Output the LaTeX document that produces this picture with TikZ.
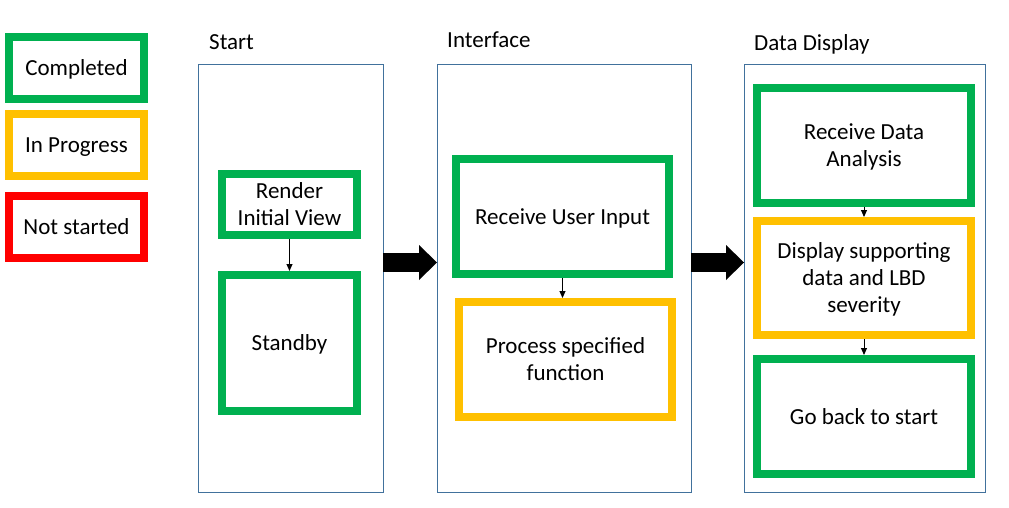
\documentclass[tikz,border=0pt]{standalone}
\usepackage{fontspec}
\setmainfont{Carlito}
\usepackage{tikz}
\usetikzlibrary{arrows.meta,positioning}
\definecolor{okgreen}{RGB}{0,176,80}
\definecolor{wipyellow}{RGB}{255,192,0}
\definecolor{nored}{RGB}{255,0,0}
\definecolor{laneblue}{RGB}{65,113,156}
% line struts so text sits as in the slide
\newcommand{\tstrut}{\rule{0pt}{0.95em}}
\newcommand{\bstrut}{\rule[-0.27em]{0pt}{0.27em}}
\tikzset{task/.style={draw, line width=8pt, outer sep=4pt, inner sep=0pt, align=center},
    done/.style={task, draw=okgreen},
    doing/.style={task, draw=wipyellow},
    todo/.style={task, draw=nored},
    lane/.style={draw=laneblue, line width=1pt, outer sep=0pt},
    title/.style={anchor=base west, inner sep=0pt},
    flow/.style={color=black, line width=1pt, -{Triangle[length=7pt,width=6pt]}},
    bigflow/.style={color=black, line width=19pt, -{Triangle[length=18pt,width=35pt,line width=0pt]}}}

\begin{document}
\begin{tikzpicture}[x=1pt, y=-1pt, every node/.style={font=\fontsize{23}{27}\selectfont}]
                \useasboundingbox (0,0) rectangle (1009,508);

                % legend
                \node[done, minimum width=135pt, minimum height=62pt] (completed) at (76.5,68) {\tstrut Completed\bstrut};
                \node[doing, minimum width=135pt, minimum height=62pt] (inprogress) [below=7pt of completed] {\tstrut In Progress\bstrut};
                \node[todo, minimum width=135pt, minimum height=62pt] (notstarted) [below=12pt of inprogress] {\tstrut Not started\bstrut};

                % lanes
                \node[lane, minimum width=185pt, minimum height=427pt] (startlane) at (290.5,278.5) {};
                \node[lane, minimum width=254pt, minimum height=427pt] (interfacelane) at (564,278.5) {};
                \node[lane, minimum width=241pt, minimum height=427pt] (displaylane) at (864.5,278.5) {};

                \node[title] (starttitle) at (209,50) {Start};
                \node[title] (interfacetitle) at (447,48) {Interface};
                \node[title] (displaytitle) at (754,51) {Data Display};

                % tasks
                \node[done, minimum width=135pt, minimum height=61pt] (render) at (289.5,204.5) {\tstrut Render\\Initial View\bstrut};
                \node[done, minimum width=135pt, minimum height=136pt] (standby) at (289.5,343) {\tstrut Standby\bstrut};

                \node[done, minimum width=213pt, minimum height=115pt] (userinput) at (562.5,216.5) {\tstrut Receive User Input\bstrut};
                \node[doing, minimum width=213pt, minimum height=115pt] (process) at (565.5,359.5) {\tstrut Process specified\\function\bstrut};

                \node[done, minimum width=214pt, minimum height=115pt] (dataanalysis) at (864,145.5) {\tstrut Receive Data\\Analysis\bstrut};
                \node[doing, minimum width=214pt, minimum height=114pt] (supportdata) at (864,278) {\tstrut Display supporting\\data and LBD\\severity\bstrut};
                \node[done, minimum width=214pt, minimum height=115pt] (goback) at (864,416.5) {\tstrut Go back to start\bstrut};

                \path (render) edge[flow] (standby)
                    (dataanalysis) edge[flow] (supportdata)
                    (supportdata) edge[flow] (goback);
                \draw[flow] (userinput.south) -- (userinput.south |- process.north);

                \draw[bigflow] ([yshift=16pt]startlane.east) -- ([yshift=16pt]startlane.east -| interfacelane.west);
                \draw[bigflow] ([yshift=16pt]interfacelane.east) -- ([yshift=16pt]interfacelane.east -| displaylane.west);
\end{tikzpicture}
\end{document}
